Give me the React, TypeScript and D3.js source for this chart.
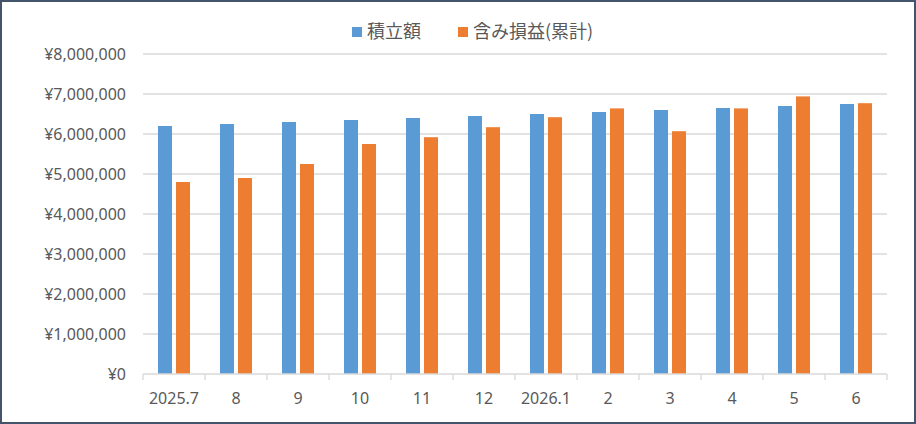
import { useEffect, useRef } from "react";
import * as d3 from "d3";

const months = ["2025.7", "8", "9", "10", "11", "12", "2026.1", "2", "3", "4", "5", "6"];
const contributions = [6200000, 6250000, 6300000, 6350000, 6400000, 6450000, 6500000, 6550000, 6600000, 6650000, 6700000, 6750000];
const valuations = [4800000, 4900000, 5250000, 5750000, 5920000, 6170000, 6420000, 6640000, 6070000, 6640000, 6940000, 6770000];
const seriesNames = ["積立額", "含み損益(累計)"];
const seriesColors = ["#5B9BD5", "#ED7D31"];
const yTicks = [0, 1000000, 2000000, 3000000, 4000000, 5000000, 6000000, 7000000, 8000000];

export default function App() {
  const svgRef = useRef<SVGSVGElement>(null);

  useEffect(() => {
    if (!svgRef.current) return;
    const svg = d3.select(svgRef.current);
    svg.selectAll("*").remove();

    const width = 916;
    const height = 424;
    const plot = { left: 143, right: 887, top: 54, bottom: 374 };
    const textColor = "#595959";
    const gridColor = "#D9D9D9";
    const numFont = "'Noto Sans', 'Open Sans', sans-serif";
    const cjkFont = "'Noto Sans CJK JP', 'Noto Sans', sans-serif";

    // Background and frame
    svg
      .append("rect")
      .attr("x", 1)
      .attr("y", 1)
      .attr("width", width - 2)
      .attr("height", height - 2)
      .attr("fill", "#ffffff")
      .attr("stroke", "#44546A")
      .attr("stroke-width", 2);

    const x0 = d3.scaleBand<string>().domain(months).range([plot.left, plot.right]).padding(0);
    const groupWidth = 32;
    const x1 = d3
      .scaleBand<number>()
      .domain([0, 1])
      .range([0, groupWidth])
      .paddingInner(0.222);
    const y = d3.scaleLinear().domain([0, 8000000]).range([plot.bottom, plot.top]);

    // Grid lines
    svg
      .append("g")
      .selectAll("line")
      .data(yTicks.filter((d) => d > 0))
      .join("line")
      .attr("x1", plot.left)
      .attr("x2", plot.right)
      .attr("y1", (d) => y(d))
      .attr("y2", (d) => y(d))
      .attr("stroke", gridColor)
      .attr("stroke-width", 1.3);

    // Y labels
    const fmt = d3.format(",");
    svg
      .append("g")
      .selectAll("text")
      .data(yTicks)
      .join("text")
      .attr("x", 126)
      .attr("y", (d) => y(d))
      .attr("dy", "0.35em")
      .attr("text-anchor", "end")
      .attr("fill", textColor)
      .attr("font-family", numFont)
      .attr("font-size", "16px")
      .text((d) => `¥${fmt(d)}`);

    // Bars
    const seriesData = [contributions, valuations];
    const groups = svg
      .append("g")
      .selectAll("g")
      .data(months)
      .join("g")
      .attr("transform", (m) => `translate(${(x0(m) || 0) + (x0.bandwidth() - groupWidth) / 2},0)`);

    groups
      .selectAll("rect")
      .data((_, i) => seriesData.map((s, k) => ({ k, v: s[i] })))
      .join("rect")
      .attr("x", (d) => x1(d.k) || 0)
      .attr("width", x1.bandwidth())
      .attr("y", (d) => y(d.v))
      .attr("height", (d) => y(0) - y(d.v))
      .attr("fill", (d) => seriesColors[d.k]);

    // X axis line and ticks
    svg
      .append("line")
      .attr("x1", plot.left)
      .attr("x2", plot.right)
      .attr("y1", y(0))
      .attr("y2", y(0))
      .attr("stroke", gridColor)
      .attr("stroke-width", 1.3);

    const boundaries = months.map((m) => x0(m) || 0).concat([plot.right]);
    svg
      .append("g")
      .selectAll("line")
      .data(boundaries)
      .join("line")
      .attr("x1", (d) => d)
      .attr("x2", (d) => d)
      .attr("y1", y(0))
      .attr("y2", y(0) + 6)
      .attr("stroke", gridColor)
      .attr("stroke-width", 1.3);

    svg
      .append("g")
      .selectAll("text")
      .data(months)
      .join("text")
      .attr("x", (m) => (x0(m) || 0) + x0.bandwidth() / 2)
      .attr("y", 398)
      .attr("dy", "0.35em")
      .attr("text-anchor", "middle")
      .attr("fill", textColor)
      .attr("font-family", numFont)
      .attr("font-size", "16px")
      .text((m) => m);

    // Legend
    const legendX = [352, 458];
    const legend = svg
      .append("g")
      .selectAll("g")
      .data(seriesNames)
      .join("g")
      .attr("transform", (_, i) => `translate(${legendX[i]},32)`);

    legend
      .append("rect")
      .attr("x", 0)
      .attr("y", -5)
      .attr("width", 10)
      .attr("height", 10)
      .attr("fill", (_, i) => seriesColors[i]);

    legend
      .append("text")
      .attr("x", 15)
      .attr("y", 0)
      .attr("dy", "0.35em")
      .attr("fill", textColor)
      .attr("font-family", cjkFont)
      .attr("font-size", "18px")
      .text((d) => d);
  }, []);

  return (
    <div style={{ position: "fixed", left: 0, top: 0 }}>
      <svg ref={svgRef} width={916} height={424} style={{ display: "block" }} />
    </div>
  );
}
